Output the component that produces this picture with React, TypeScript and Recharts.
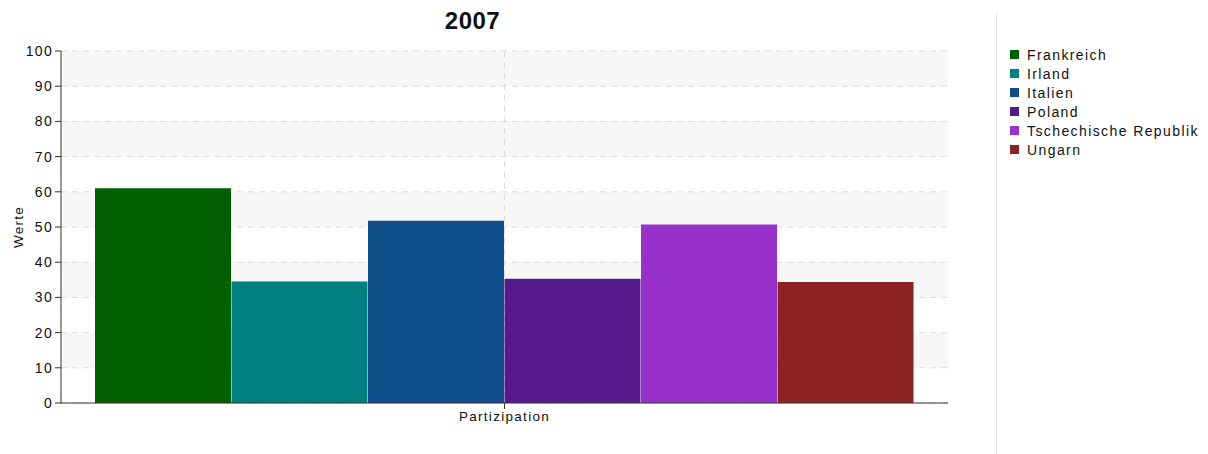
import React from 'react';
import { BarChart, Bar, XAxis, YAxis, CartesianGrid } from 'recharts';

// Participation values per country, 2007
const categories = ['Partizipation'];
const countries = ['Frankreich', 'Irland', 'Italien', 'Poland', 'Tschechische Republik', 'Ungarn'];
const values = [61, 34.5, 51.8, 35.3, 50.7, 34.4];
const colors = ['#006000', '#008080', '#104e8b', '#551a8b', '#9932cc', '#8b2323'];
const yTicks = [0, 10, 20, 30, 40, 50, 60, 70, 80, 90, 100];
const title = '2007';
const yLabel = 'Werte';

const data = categories.map((name) => {
  const row: Record<string, string | number> = { name };
  countries.forEach((c, i) => {
    row[c] = values[i];
  });
  return row;
});

const FONT = "Arial, 'Liberation Sans', sans-serif";

export default function App() {
  return (
    <div
      style={{
        position: 'absolute',
        left: 0,
        top: 0,
        width: 1208,
        height: 454,
        background: '#fff',
        fontFamily: FONT,
        overflow: 'hidden',
      }}
    >
      <div
        style={{
          position: 'absolute',
          left: 0,
          width: 945,
          top: 6,
          textAlign: 'center',
          fontSize: 24,
          fontWeight: 'bold',
          letterSpacing: 0.5,
          color: '#111',
          lineHeight: '30px',
        }}
      >
        {title}
      </div>

      <div style={{ position: 'absolute', top: 0 }}>
        <BarChart
          width={1208}
          height={454}
          data={data}
          margin={{ top: 51, right: 260, bottom: 0, left: 0 }}
          barCategoryGap={34}
          barGap={0.5}
        >
          <CartesianGrid
            stroke="#dcdcdc"
            strokeDasharray="6 5"
            horizontalFill={['#f7f7f7', '#ffffff']}
            fillOpacity={1}
            verticalCoordinatesGenerator={({ offset }: any) => [offset.left + offset.width / 2]}
          />
          <XAxis
            dataKey="name"
            height={51}
            stroke="#333"
            tickSize={6}
            tick={{ fill: '#111', fontSize: 13.5, fontFamily: FONT, letterSpacing: 1.3 }}
          />
          <YAxis
            width={61}
            domain={[0, 100]}
            ticks={yTicks}
            interval={0}
            stroke="#333"
            tickSize={6}
            tick={{ fill: '#111', fontSize: 14, fontFamily: FONT, letterSpacing: 1.3 }}
            label={(props: any) => {
              const vb = props.viewBox || {};
              const cy = (vb.y ?? 51) + (vb.height ?? 352) / 2;
              return (
                <text
                  x={23}
                  y={cy}
                  transform={`rotate(-90, 23, ${cy})`}
                  textAnchor="middle"
                  fontSize={13.5}
                  fontFamily={FONT}
                  letterSpacing={1.2}
                  fill="#111"
                >
                  {yLabel}
                </text>
              );
            }}
          />
          {countries.map((c, i) => (
            <Bar key={c} dataKey={c} fill={colors[i]} isAnimationActive={false} />
          ))}
        </BarChart>
      </div>

      {/* divider between plot and legend */}
      <div
        style={{
          position: 'absolute',
          left: 996,
          top: 12,
          width: 1,
          height: 442,
          background: '#e6e6e6',
        }}
      />

      <div
        style={{
          position: 'absolute',
          left: 1010,
          top: 45,
          width: 188,
          overflow: 'hidden',
          whiteSpace: 'nowrap',
        }}
      >
        {countries.map((c, i) => (
          <div
            key={c}
            style={{ display: 'flex', alignItems: 'center', height: 19 }}
          >
            <span
              style={{
                display: 'inline-block',
                width: 9,
                height: 9,
                background: colors[i],
                marginRight: 8,
                flex: 'none',
              }}
            />
            <span style={{ fontSize: 14, letterSpacing: 1.4, color: '#111' }}>{c}</span>
          </div>
        ))}
      </div>
    </div>
  );
}
